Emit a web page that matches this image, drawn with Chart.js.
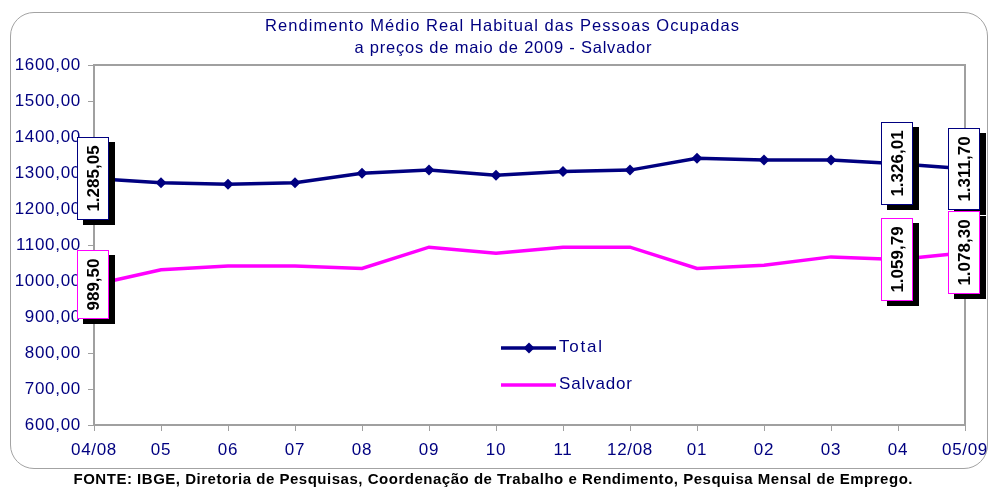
<!DOCTYPE html>
<html><head><meta charset="utf-8">
<script src="https://cdn.jsdelivr.net/npm/chart.js@4.4.1/dist/chart.umd.min.js"></script>
<style>
html,body{margin:0;padding:0;background:#fff;}
#wrap{position:relative;width:989px;height:489px;overflow:hidden;}
#frame{position:absolute;left:10px;top:12px;width:978px;height:457px;border:1.5px solid #a3a3a3;border-radius:24px;box-sizing:border-box;}
canvas{position:absolute;left:0;top:0;}
</style></head><body>
<div id="wrap"><div id="frame"></div><canvas id="c" width="989" height="489"></canvas></div>
<script>
// ---- data ----
const categories = ['04/08','05','06','07','08','09','10','11','12/08','01','02','03','04','05/09'];
const totalValues = [1285.05,1273,1269,1273,1299,1308,1294,1304,1308,1341,1336,1336,1326.01,1311.70];
const salvadorValues = [989.50,1031,1042,1042,1035,1094,1077,1094,1094,1035,1044,1067,1059.79,1078.30];
const labeledIndices = [0,12,13];
const seriesNames = ['Total','Salvador'];
const yMin = 600, yMax = 1600, yStep = 100;
const titleLines = ['Rendimento Médio Real Habitual das Pessoas Ocupadas','a preços de maio de 2009 - Salvador'];
const sourceNote = 'FONTE: IBGE, Diretoria de Pesquisas, Coordenação de Trabalho e Rendimento, Pesquisa Mensal de Emprego.';

// ---- styles ----
const NAVY = '#000080', MAGENTA = '#FF00FF', GREY = '#a0a0a0';
const FONT = '"Liberation Sans", Arial, sans-serif';

function fmtBR(v){
  const parts = v.toFixed(2).split('.');
  const intPart = parts[0].replace(/\B(?=(\d{3})+(?!\d))/g,'.');
  return intPart + ',' + parts[1];
}
function fitText(ctx, text, cx, y, width){
  ctx.letterSpacing = '0px';
  ctx.textAlign = 'left';
  const w0 = ctx.measureText(text).width;
  const n = [...text].length;
  if (w0 > width) {
    ctx.save();
    ctx.translate(cx - width/2, y);
    ctx.scale(width / w0, 1);
    ctx.fillText(text, 0, 0);
    ctx.restore();
    return;
  }
  const ls = n > 1 ? (width - w0)/(n-1) : 0;
  ctx.letterSpacing = ls + 'px';
  ctx.fillText(text, cx - width/2, y);
  ctx.letterSpacing = '0px';
}
function fitTextLeft(ctx, text, x, y, width){
  fitText(ctx, text, x + width/2, y, width);
}

const decorPlugin = {
  id: 'decor',
  beforeDraw(chart){
    chart.ctx.letterSpacing = '0.7px';
  },
  beforeDatasetsDraw(chart){
    const ctx = chart.ctx;
    const a = chart.chartArea;
    ctx.save();
    ctx.strokeStyle = GREY;
    ctx.lineWidth = 2;
    ctx.beginPath();
    ctx.moveTo(a.left, a.top); ctx.lineTo(a.right, a.top); ctx.lineTo(a.right, a.bottom);
    ctx.stroke();
    ctx.restore();
  },
  afterDatasetsDraw(chart){
    const ctx = chart.ctx;
    chart.data.datasets.forEach((ds, di) => {
      const meta = chart.getDatasetMeta(di);
      labeledIndices.forEach(i => {
        const el = meta.data[i];
        const text = fmtBR(ds.data[i]);
        ctx.save();
        ctx.letterSpacing = '0px';
        ctx.font = 'bold 17px ' + FONT;
        const tw = ctx.measureText(text).width;
        const bw = 32, bh = Math.round(tw + 17);
        const x0 = Math.round(el.x - 1 - bw/2), y0 = Math.round(el.y - bh/2);
        ctx.fillStyle = '#000';
        ctx.fillRect(x0 + 6, y0 + 5, bw, bh);
        ctx.fillStyle = '#fff';
        ctx.fillRect(x0, y0, bw, bh);
        ctx.strokeStyle = ds.borderColor;
        ctx.lineWidth = 1;
        ctx.strokeRect(x0 + 0.5, y0 + 0.5, bw - 1, bh - 1);
        ctx.translate(x0 + bw/2, y0 + bh/2);
        ctx.rotate(-Math.PI/2);
        ctx.fillStyle = '#000';
        ctx.textAlign = 'center';
        ctx.textBaseline = 'middle';
        ctx.fillText(text, 0, 1);
        ctx.restore();
      });
    });
  },
  afterDraw(chart){
    const ctx = chart.ctx;
    ctx.save();
    ctx.letterSpacing = '0px';
    // title
    ctx.fillStyle = NAVY;
    ctx.font = '16.5px ' + FONT;
    ctx.textBaseline = 'alphabetic';
    fitText(ctx, titleLines[0], 502, 31, 474);
    fitText(ctx, titleLines[1], 503, 53, 297);
    // legend
    const ds = chart.data.datasets;
    const lx1 = 501, lx2 = 556, tx = 559;
    const rows = [{y:348, w:43}, {y:385, w:73}];
    ds.forEach((d, i) => {
      const r = rows[i];
      ctx.strokeStyle = d.borderColor;
      ctx.lineWidth = 3.5;
      ctx.beginPath(); ctx.moveTo(lx1, r.y); ctx.lineTo(lx2, r.y); ctx.stroke();
      if (d.pointRadius > 0) {
        ctx.fillStyle = d.borderColor;
        const cx = 529, rr = 5.5;
        ctx.beginPath();
        ctx.moveTo(cx, r.y - rr); ctx.lineTo(cx + rr, r.y); ctx.lineTo(cx, r.y + rr); ctx.lineTo(cx - rr, r.y);
        ctx.closePath(); ctx.fill();
      }
      ctx.fillStyle = NAVY;
      ctx.font = '17px ' + FONT;
      ctx.textBaseline = 'middle';
      fitTextLeft(ctx, d.label, tx, r.y - 1, r.w);
    });
    // source note
    ctx.fillStyle = '#000';
    ctx.font = 'bold 15px ' + FONT;
    ctx.textBaseline = 'alphabetic';
    fitText(ctx, sourceNote, 493, 484, 839);
    ctx.restore();
  }
};

new Chart(document.getElementById('c'), {
  type: 'line',
  data: {
    labels: categories,
    datasets: [
      { label: seriesNames[0], data: totalValues, borderColor: NAVY, backgroundColor: NAVY,
        borderWidth: 3.5, pointStyle: 'rectRot', pointRadius: 5.5, pointBorderWidth: 0,
        pointBackgroundColor: NAVY, tension: 0 },
      { label: seriesNames[1], data: salvadorValues, borderColor: MAGENTA, backgroundColor: MAGENTA,
        borderWidth: 3.5, pointRadius: 0, tension: 0 }
    ]
  },
  options: {
    responsive: false,
    animation: false,
    devicePixelRatio: 1,
    layout: { padding: { top: 65, right: 24, bottom: 0, left: 0 } },
    plugins: { legend: { display: false }, title: { display: false }, tooltip: { enabled: false } },
    scales: {
      x: {
        offset: false,
        grid: { display: true, drawOnChartArea: false, drawTicks: true, tickLength: 6, color: GREY, lineWidth: 1 },
        border: { display: true, color: GREY, width: 2 },
        ticks: { color: NAVY, font: { family: FONT, size: 17 }, padding: 9, maxRotation: 0, autoSkip: false },
        afterFit(scale){ scale.height = 64; scale.paddingLeft = 0; scale.paddingRight = 0; }
      },
      y: {
        min: yMin, max: yMax,
        grid: { display: true, drawOnChartArea: false, drawTicks: true, tickLength: 6, color: GREY, lineWidth: 1 },
        border: { display: true, color: GREY, width: 2 },
        ticks: { stepSize: yStep, color: NAVY, font: { family: FONT, size: 17 }, padding: 7,
                 callback: v => v.toFixed(2).replace('.', ',') },
        afterFit(scale){ scale.width = 94; scale.paddingTop = 0; scale.paddingBottom = 0; }
      }
    }
  },
  plugins: [decorPlugin]
});
</script>
</body></html>
